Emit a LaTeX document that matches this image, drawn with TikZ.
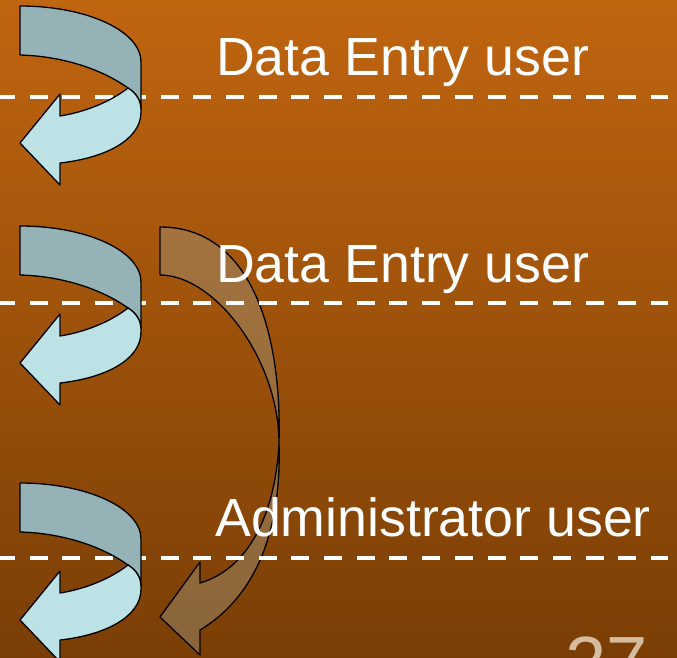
\documentclass[tikz,border=0pt]{standalone}
\usepackage{fontspec}
\setmainfont{Liberation Sans}
\begin{document}
\begin{tikzpicture}[x=1pt,y=-1pt]
\definecolor{bgtop}{RGB}{192,101,16}
\definecolor{bgbot}{RGB}{122,62,5}
\definecolor{bluedark}{RGB}{149,179,182}
\definecolor{bluelight}{RGB}{189,226,230}
\definecolor{tanfill}{RGB}{158,150,125}
\definecolor{numtan}{RGB}{212,188,158}
\tikzset{
  outl/.style={draw=black, line width=1.3pt, line join=round},
  dashline/.style={draw=white, line width=4pt, dash pattern=on 18pt off 14.7pt, dash phase=3pt},
  txt/.style={anchor=base west, inner sep=0pt, text=white, font=\fontsize{53.7}{60}\selectfont},
  bluearrow/.pic={
    \filldraw[outl, fill=bluedark] (20,6) .. controls (87,6) and (141,31) .. (141,62) -- (141,110)
      .. controls (141,100) and (136,93) .. (128,88)
      .. controls (100,68) and (60,56) .. (20,55) -- cycle;
    \filldraw[outl, fill=bluelight] (128,88) .. controls (110,102) and (85,112) .. (60,116)
      -- (60,94) -- (20,143) -- (60,185) -- (60,163)
      .. controls (105,158) and (141,140) .. (141,112) -- (141,110)
      .. controls (141,100) and (136,93) .. (128,88) -- cycle;
  }
}
\shade[top color=bgtop,bottom color=bgbot] (0,0) rectangle (677,657);
\useasboundingbox (0,0) rectangle (677,657);
% brown arrow
\filldraw[outl, fill=tanfill, fill opacity=0.45] (160,227) .. controls (250,227) and (282,330) .. (279,443)
  .. controls (279,360) and (215,275) .. (160,275) -- cycle;
\filldraw[outl, fill=tanfill, fill opacity=0.45] (279,443) .. controls (275,520) and (245,570) .. (200,583)
  -- (200,562) -- (160,617) -- (200,655) -- (200,630)
  .. controls (250,600) and (282,540) .. (279,443) -- cycle;
% dashed lines
\coordinate (l1a) at (0,97);   \coordinate (l1b) at (668,97);
\coordinate (l2a) at (0,303);  \coordinate (l2b) at (668,303);
\coordinate (l3a) at (0,558);  \coordinate (l3b) at (668,558);
\draw[dashline] (l1a) -- (l1b);
\draw[dashline] (l2a) -- (l2b);
\draw[dashline] (l3a) -- (l3b);
% blue arrows
\pic at (0,0) {bluearrow};
\pic at (0,220) {bluearrow};
\pic at (0,477) {bluearrow};
% texts
\node[txt] (t1) at (216,75) {Data Entry user};
\node[txt] (t2) at (216,282) {Data Entry user};
\node[txt] (t3) at (215,536) {Administrator user};
\node[anchor=base west, inner sep=0pt, text=numtan, font=\fontsize{74}{80}\selectfont] (num) at (565,688) {27};
\end{tikzpicture}
\end{document}
